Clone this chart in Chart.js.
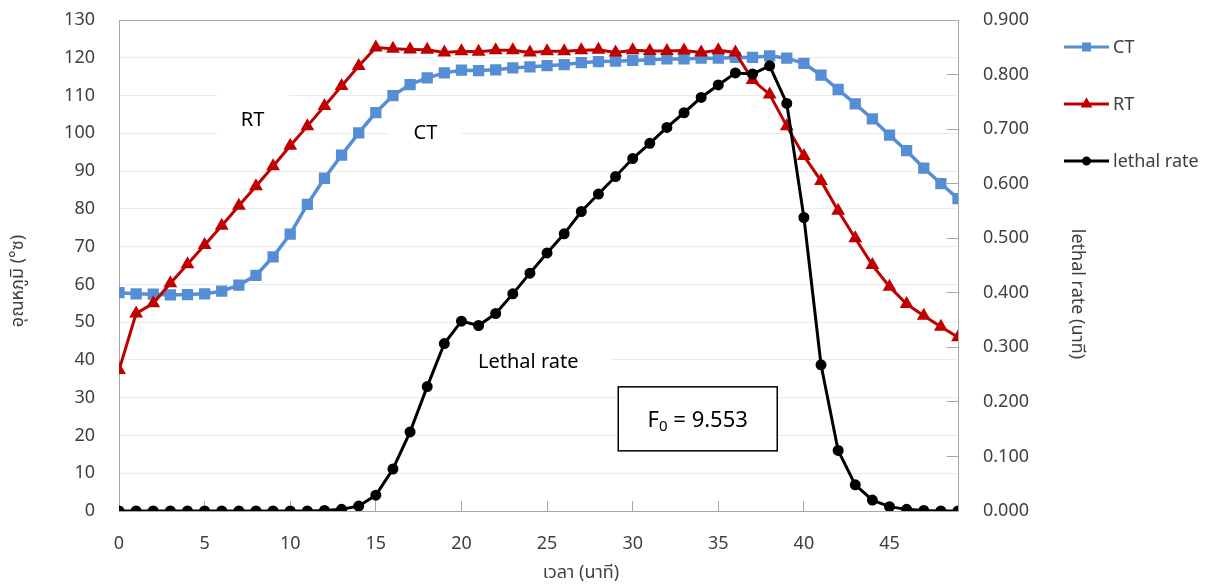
<!DOCTYPE html>
<html>
<head>
<meta charset="utf-8">
<script src="https://cdn.jsdelivr.net/npm/chart.js@4.4.1/dist/chart.umd.min.js"></script>
<style>
  html, body { margin: 0; padding: 0; background: #fff; }
  #wrap { width: 1225px; height: 585px; position: relative; }
</style>
</head>
<body>
<div id="wrap"><canvas id="chart"></canvas></div>
<script>
// time axis (minutes)
const minutes = [0,1,2,3,4,5,6,7,8,9,10,11,12,13,14,15,16,17,18,19,20,21,22,23,24,
  25,26,27,28,29,30,31,32,33,34,35,36,37,38,39,40,41,42,43,44,45,46,47,48,49];

// CT - can center temperature
const ctTemp = [57.8,57.5,57.4,57.2,57.3,57.5,58.2,59.8,62.4,67.3,
  73.3,81.2,88.1,94.2,100.1,105.5,110.0,112.9,114.7,116.0,
  116.7,116.6,116.8,117.3,117.6,117.9,118.2,118.7,119.0,119.1,
  119.3,119.5,119.7,119.7,119.9,119.9,120.1,120.1,120.5,119.9,
  118.5,115.4,111.6,107.8,103.8,99.5,95.4,90.8,86.7,82.7];

// RT - retort temperature
const rtTemp = [37.3,52.3,55.0,60.3,65.3,70.4,75.5,80.8,86.0,91.3,
  96.7,101.9,107.2,112.5,117.8,122.7,122.4,122.2,122.1,121.4,
  121.7,121.6,122.0,122.0,121.4,121.7,121.7,122.0,122.1,121.4,
  122.0,121.8,121.8,121.9,121.4,122.0,121.4,114.1,110.3,101.9,
  94.0,87.4,79.5,72.2,65.1,59.4,54.8,51.7,48.8,46.0];

// lethal rate (right axis)
const lethalRate = [0,0,0,0,0,0,0,0,0,0,
  0,0,0.001,0.003,0.009,0.029,0.077,0.145,0.228,0.307,
  0.348,0.340,0.362,0.398,0.436,0.473,0.508,0.549,0.581,0.613,
  0.646,0.674,0.703,0.730,0.758,0.781,0.803,0.801,0.816,0.747,
  0.538,0.268,0.111,0.048,0.020,0.008,0.003,0.001,0,0];

const seriesNames = ['CT', 'RT', 'lethal rate'];
const xTitle = 'เวลา (นาที)';
const yTitle = 'อุณหภูมิ (°ซ)';
const y1Title = 'lethal rate (นาที)';
const f0Text = '9.553';

const FONT = "'Noto Sans', 'Noto Sans Thai', Tahoma, sans-serif";
const TICK_COLOR = '#404040';
const AXIS_COLOR = '#a6a6a6';

// text labels placed in data coordinates (x: minutes, y: left axis)
const notes = [
  { text: 'RT', x: 7.8, y: 103.5, w: 72, h: 54 },
  { text: 'CT', x: 17.9, y: 100.1, w: 72, h: 60 },
  { text: 'Lethal rate', x: 23.9, y: 39.4, w: 164, h: 54 }
];
const f0Box = { x: 33.8, y: 24.4, w: 159, h: 64 };

const pts = arr => minutes.map((m, i) => ({ x: m, y: arr[i] }));

// keep the big label paddings from pushing the plot area around
function pinPadding(s) {
  s.paddingTop = 0;
  s.paddingBottom = 0;
  s.paddingLeft = 0;
  s.paddingRight = 0;
}

const decor = {
  id: 'decor',
  beforeDatasetsDraw(chart) {
    const { ctx, chartArea: a, scales: { x, y } } = chart;
    ctx.save();
    // top frame line
    ctx.strokeStyle = AXIS_COLOR;
    ctx.lineWidth = 1;
    ctx.beginPath();
    ctx.moveTo(a.left, a.top + 0.5);
    ctx.lineTo(a.right, a.top + 0.5);
    ctx.stroke();
    // white backgrounds of the text labels
    ctx.fillStyle = '#fff';
    notes.forEach(n => {
      const px = x.getPixelForValue(n.x), py = y.getPixelForValue(n.y);
      ctx.fillRect(px - n.w / 2, py - n.h / 2, n.w, n.h);
    });
    ctx.restore();
  },
  afterDraw(chart) {
    const { ctx, scales: { x, y } } = chart;
    ctx.save();
    ctx.fillStyle = '#000';
    ctx.textAlign = 'center';
    ctx.textBaseline = 'middle';
    ctx.font = '20px ' + FONT;
    notes.forEach(n => {
      ctx.fillText(n.text, x.getPixelForValue(n.x), y.getPixelForValue(n.y));
    });

    // F0 box
    const bx = x.getPixelForValue(f0Box.x), by = y.getPixelForValue(f0Box.y);
    ctx.fillStyle = '#fff';
    ctx.fillRect(bx - f0Box.w / 2, by - f0Box.h / 2, f0Box.w, f0Box.h);
    ctx.strokeStyle = '#000';
    ctx.lineWidth = 1.5;
    ctx.strokeRect(bx - f0Box.w / 2, by - f0Box.h / 2, f0Box.w, f0Box.h);
    ctx.fillStyle = '#000';
    ctx.textAlign = 'left';
    ctx.textBaseline = 'alphabetic';
    ctx.font = '22px ' + FONT;
    const rest = ' = ' + f0Text;
    const wF = ctx.measureText('F').width;
    const wR = ctx.measureText(rest).width;
    ctx.font = '15px ' + FONT;
    const wS = ctx.measureText('0').width;
    const tx = bx - (wF + wS + wR) / 2;
    const base = by + 8;
    ctx.font = '22px ' + FONT;
    ctx.fillText('F', tx, base);
    ctx.font = '15px ' + FONT;
    ctx.fillText('0', tx + wF, base + 4);
    ctx.font = '22px ' + FONT;
    ctx.fillText(rest, tx + wF + wS, base);

    // axis titles
    ctx.fillStyle = TICK_COLOR;
    ctx.textAlign = 'center';
    ctx.textBaseline = 'middle';
    ctx.font = '18px ' + FONT;
    ctx.fillText(xTitle, 581, 573);
    ctx.save();
    ctx.translate(18, 281);
    ctx.rotate(-Math.PI / 2);
    ctx.fillText(yTitle, 0, 0);
    ctx.restore();
    ctx.save();
    ctx.translate(1077, 294);
    ctx.rotate(Math.PI / 2);
    ctx.fillText(y1Title, 0, 0);
    ctx.restore();

    // legend
    const rows = [47, 104, 161];
    chart.data.datasets.forEach((ds, i) => {
      const ly = rows[i];
      ctx.strokeStyle = ds.borderColor;
      ctx.lineWidth = 3;
      ctx.beginPath();
      ctx.moveTo(1064, ly);
      ctx.lineTo(1109, ly);
      ctx.stroke();
      ctx.fillStyle = ds.borderColor;
      Chart.helpers.drawPoint(ctx, { pointStyle: ds.pointStyle, radius: ds.pointRadius * 0.75, rotation: 0, borderWidth: 1 }, 1086.5, ly);
      ctx.fillStyle = TICK_COLOR;
      ctx.textAlign = 'left';
      ctx.font = '18px ' + FONT;
      ctx.fillText(ds.label, 1113, ly + 1);
    });
    ctx.restore();
  }
};

new Chart(document.getElementById('chart'), {
  type: 'line',
  data: {
    datasets: [
      {
        label: seriesNames[0],
        data: pts(ctTemp),
        yAxisID: 'y',
        borderColor: '#558ed5',
        backgroundColor: '#558ed5',
        borderWidth: 3.5,
        pointStyle: 'rect',
        pointRadius: 5.5,
        order: 3
      },
      {
        label: seriesNames[1],
        data: pts(rtTemp),
        yAxisID: 'y',
        borderColor: '#c00000',
        backgroundColor: '#c00000',
        borderWidth: 3,
        pointStyle: 'triangle',
        pointRadius: 5,
        order: 2
      },
      {
        label: seriesNames[2],
        data: pts(lethalRate),
        yAxisID: 'y1',
        borderColor: '#000000',
        backgroundColor: '#000000',
        borderWidth: 3,
        pointStyle: 'circle',
        pointRadius: 4,
        order: 1
      }
    ]
  },
  options: {
    responsive: true,
    maintainAspectRatio: false,
    animation: false,
    layout: { padding: { top: 20, left: 0, right: 0, bottom: 0 } },
    plugins: { legend: { display: false }, tooltip: { enabled: false } },
    elements: { line: { tension: 0 }, point: { borderWidth: 1 } },
    scales: {
      x: {
        type: 'linear',
        min: 0,
        max: 49,
        afterBuildTicks: s => { s.ticks = s.ticks.filter(t => t.value % 5 === 0); },
        afterFit: s => { s.height = 74; pinPadding(s); },
        ticks: { stepSize: 5, padding: 32, color: TICK_COLOR, font: { family: FONT, size: 18 } },
        grid: { drawOnChartArea: false, drawTicks: true, tickLength: -10, color: AXIS_COLOR },
        border: { color: AXIS_COLOR }
      },
      y: {
        position: 'left',
        min: 0,
        max: 130,
        afterFit: s => { s.width = 119; pinPadding(s); },
        ticks: { stepSize: 10, padding: 24, color: TICK_COLOR, font: { family: FONT, size: 18 } },
        grid: { color: '#ececec', drawTicks: false },
        border: { color: AXIS_COLOR }
      },
      y1: {
        position: 'right',
        min: 0,
        max: 0.9,
        afterFit: s => { s.width = 267; pinPadding(s); },
        ticks: {
          stepSize: 0.1,
          padding: 36,
          color: TICK_COLOR,
          font: { family: FONT, size: 18 },
          callback: v => v.toFixed(3)
        },
        grid: { drawOnChartArea: false, drawTicks: true, tickLength: -11, color: AXIS_COLOR },
        border: { color: AXIS_COLOR }
      }
    }
  },
  plugins: [decor]
});
</script>
</body>
</html>
